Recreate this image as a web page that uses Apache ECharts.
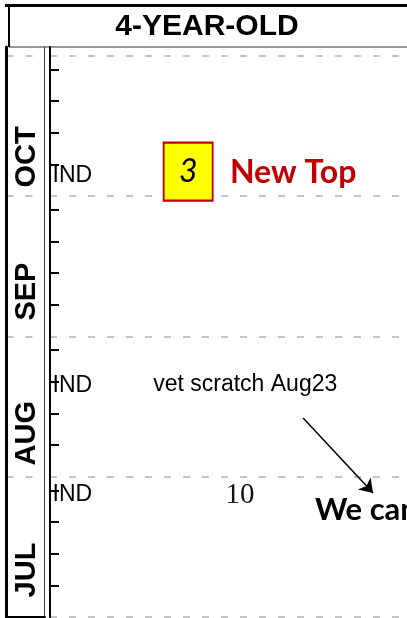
<!DOCTYPE html>
<html>
<head>
<meta charset="utf-8">
<script src="https://cdn.jsdelivr.net/npm/echarts@6/dist/echarts.min.js"></script>
<style>
  html, body { margin: 0; padding: 0; background: #fff; }
  #chart { width: 407px; height: 618px; }
</style>
</head>
<body>
<div id="chart"></div>
<script>
// month rows, bottom to top (value 0 = Jul 1, 1 = Aug 1 ...)
const months = ['JUL', 'AUG', 'SEP', 'OCT'];
const monthLabelY = [0.335, 1.31, 2.32, 3.28];
const tickDays = [7, 14, 21, 28];

// IND entries (y in month units)
const indY = [0.87, 1.65, 3.15];

// notes: x in 0-100 across the plot, y in month units
const noteText = ['vet scratch Aug23'];
const noteX = [28.9];
const noteY = [1.654];
const speedFig = ['10'];
const speedX = [53.2];
const speedY = [0.87];
const boxNum = ['3'];
const boxX = [38.7];
const boxY = [3.176];
const headline = ['New Top'];
const headX = [50.4];
const headY = [3.17];
const callout = ['We can'];
const calloutX = [74.2];
const calloutY = [0.763];
const arrowFrom = [70.9, 1.419];
const arrowTo = [90.5, 0.884];

const yMax = 4.064;

// weekly ticks inside each month
const tickValues = [];
months.forEach((m, i) => tickDays.forEach(d => tickValues.push(i + d / 31)));

const chart = echarts.init(document.getElementById('chart'));

const dashed = { show: true, showMaxLine: false, lineStyle: { color: '#b3b3b3', width: 1.6, type: [7, 12] } };
const hiddenDot = { symbol: 'circle', symbolSize: 1, itemStyle: { color: 'transparent', opacity: 1 }, silent: true };
const txt = (o) => Object.assign({ show: true, position: 'inside', formatter: p => p.data[2], textBorderWidth: 0, color: '#000' }, o);

chart.setOption({
  animation: false,
  backgroundColor: '#fff',
  title: {
    text: '4-YEAR-OLD',
    left: 207,
    top: 12,
    textAlign: 'center',
    padding: 0,
    textStyle: { fontFamily: 'Liberation Sans', fontWeight: 'bold', fontSize: 30, color: '#000' }
  },
  graphic: [
    { type: 'rect', shape: { x: 9, y: 5.5, width: 420, height: 41.5 }, style: { fill: 'none', stroke: '#333', lineWidth: 1 } },
    { type: 'line', shape: { x1: 5, y1: 5.5, x2: 407, y2: 5.5 }, style: { stroke: '#000', lineWidth: 3 } },
    { type: 'line', shape: { x1: 9, y1: 5, x2: 9, y2: 47 }, style: { stroke: '#000', lineWidth: 2 } }
  ],
  grid: [
    { left: 6.5, width: 38, top: 47, bottom: 1 },
    { left: 50, right: 0, top: 47, bottom: 1 }
  ],
  xAxis: [
    { gridIndex: 0, type: 'value', min: 0, max: 1, position: 'top',
      axisLine: { show: true, lineStyle: { color: '#000', width: 3 } },
      axisTick: { show: false }, axisLabel: { show: false }, splitLine: { show: false } },
    { gridIndex: 1, type: 'value', min: 0, max: 100, show: false }
  ],
  yAxis: [
    { gridIndex: 0, type: 'value', min: 0, max: yMax, interval: 1, position: 'left',
      axisLine: { show: true, lineStyle: { color: '#000', width: 3 } },
      axisTick: { show: false }, axisLabel: { show: false }, splitLine: dashed },
    { gridIndex: 0, type: 'value', min: 0, max: yMax, interval: 1, position: 'right',
      axisLine: { show: true, lineStyle: { color: '#444', width: 1 } },
      axisTick: { show: false }, axisLabel: { show: false }, splitLine: { show: false } },
    { gridIndex: 1, type: 'value', min: 0, max: yMax, interval: 1, position: 'left',
      axisLine: { show: true, lineStyle: { color: '#000', width: 2 } },
      axisTick: { show: true, inside: true, length: 9, customValues: tickValues, lineStyle: { color: '#000', width: 2 } },
      axisLabel: { show: false }, splitLine: { show: false } },
    { gridIndex: 1, type: 'value', min: 0, max: yMax, interval: 1, position: 'right',
      axisLine: { show: false }, axisTick: { show: false }, axisLabel: { show: false }, splitLine: dashed }
  ],
  series: [
    Object.assign({
      type: 'scatter', xAxisIndex: 0, yAxisIndex: 0,
      data: months.map((m, i) => [0.55, monthLabelY[i], m]),
      label: txt({ rotate: 90, fontFamily: 'Liberation Sans', fontWeight: 'bold', fontSize: 29 })
    }, hiddenDot),
    Object.assign({
      type: 'scatter', xAxisIndex: 1, yAxisIndex: 2,
      data: indY.map(y => [0.7, y, 'IND']),
      label: txt({ align: 'left', fontFamily: 'Liberation Sans', fontSize: 23 })
    }, hiddenDot),
    Object.assign({
      type: 'scatter', xAxisIndex: 1, yAxisIndex: 2,
      data: noteText.map((t, i) => [noteX[i], noteY[i], t]),
      label: txt({ align: 'left', fontFamily: 'Liberation Sans', fontSize: 23 }),
      markLine: {
        silent: true, symbol: ['none', 'arrow'], symbolSize: 13,
        label: { show: false },
        lineStyle: { color: '#000', width: 1.5, type: 'solid', opacity: 1 },
        data: [[{ coord: arrowFrom }, { coord: arrowTo }]]
      }
    }, hiddenDot),
    Object.assign({
      type: 'scatter', xAxisIndex: 1, yAxisIndex: 2,
      data: speedFig.map((t, i) => [speedX[i], speedY[i], t]),
      label: txt({ fontFamily: 'Liberation Serif', fontSize: 29, color: '#111' })
    }, hiddenDot),
    {
      type: 'scatter', xAxisIndex: 1, yAxisIndex: 2, silent: true,
      symbol: 'rect', symbolSize: [49, 58],
      itemStyle: { color: '#ffff00', borderColor: '#c00000', borderWidth: 2, opacity: 1 },
      data: boxNum.map((t, i) => [boxX[i], boxY[i], t]),
      label: txt({ fontFamily: 'Lato', fontStyle: 'italic', fontSize: 32 })
    },
    Object.assign({
      type: 'scatter', xAxisIndex: 1, yAxisIndex: 2,
      data: headline.map((t, i) => [headX[i], headY[i], t]),
      label: txt({ align: 'left', fontFamily: 'Lato', fontWeight: 'bold', fontSize: 32, color: '#c00000' })
    }, hiddenDot),
    Object.assign({
      type: 'scatter', xAxisIndex: 1, yAxisIndex: 2,
      data: callout.map((t, i) => [calloutX[i], calloutY[i], t]),
      label: txt({ align: 'left', fontFamily: 'Lato', fontWeight: 'bold', fontSize: 31 })
    }, hiddenDot)
  ]
});
</script>
</body>
</html>
